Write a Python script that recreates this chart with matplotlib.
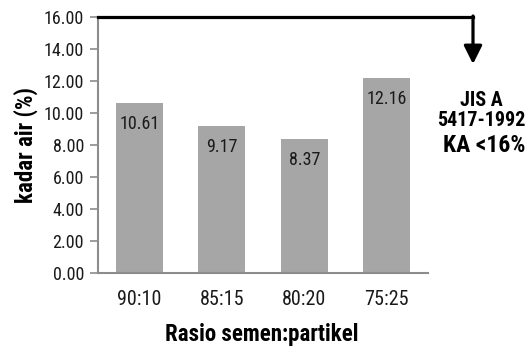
import matplotlib.pyplot as plt
import numpy as np

plt.rcParams['font.family'] = ['Roboto Condensed', 'Liberation Sans', 'DejaVu Sans']

rasio = ['90:10', '85:15', '80:20', '75:25']
kadar_air = [10.61, 9.17, 8.37, 12.16]
yticks = np.arange(0, 17, 2)

fig = plt.figure(figsize=[5.28, 3.54], dpi=100)
ax = fig.add_axes([98 / 528, 1 - 273 / 354, (428 - 98) / 528, (273 - 17) / 354])

x = np.arange(len(rasio))
ax.bar(x, kadar_air, width=0.57, color='#a6a6a6', zorder=2)

for xi, v in zip(x, kadar_air):
    ax.annotate('%.2f' % v, (xi, v), xytext=(0, -15), textcoords='offset points',
                ha='center', va='center', fontsize=13, color='#1a1a1a')

ax.set_xlim(-0.5, len(rasio) - 0.5)
ax.set_ylim(0, 16)
ax.set_yticks(yticks)
ax.set_yticklabels(['%.2f' % t for t in yticks], fontsize=13, color='#1a1a1a')
ax.set_xticks(x)
ax.set_xticklabels(rasio, fontsize=14.5, color='#1a1a1a')
ax.tick_params(axis='x', length=0, pad=12)
ax.tick_params(axis='y', length=6, width=1.2, color='#8c8c8c', pad=4)

for side in ['top', 'right']:
    ax.spines[side].set_visible(False)
for side in ['left', 'bottom']:
    ax.spines[side].set_color('#8c8c8c')
    ax.spines[side].set_linewidth(1.5)

ax.set_ylabel('kadar air (%)', fontsize=16.5, fontweight='bold', labelpad=4)
fig.text(262 / 528, 1 - 335 / 354, 'Rasio semen:partikel', fontsize=16.5,
         fontweight='bold', ha='center', va='center')

# standard limit marker: line along the 16% level bending down to the note
fig.add_artist(plt.Line2D([98 / 528, 473 / 528], [1 - 17 / 354, 1 - 17 / 354],
                          transform=fig.transFigure, color='black', lw=2.3))
ax.annotate('', xy=(473 / 528, 1 - 64 / 354), xytext=(473 / 528, 1 - 16 / 354),
            xycoords='figure fraction', textcoords='figure fraction',
            arrowprops=dict(arrowstyle='-|>,head_length=1.1,head_width=0.55',
                            color='black', lw=2.3, shrinkA=0, shrinkB=0))

fig.text(481 / 528, 1 - 100 / 354, 'JIS A', fontsize=14.5, fontweight='bold',
         ha='center', va='center')
fig.text(481 / 528, 1 - 120 / 354, '5417-1992', fontsize=14.5, fontweight='bold',
         ha='center', va='center')
fig.text(484 / 528, 1 - 146 / 354, 'KA <16%', fontsize=17, fontweight='bold',
         ha='center', va='center')

fig.savefig('out.png', dpi=100)
